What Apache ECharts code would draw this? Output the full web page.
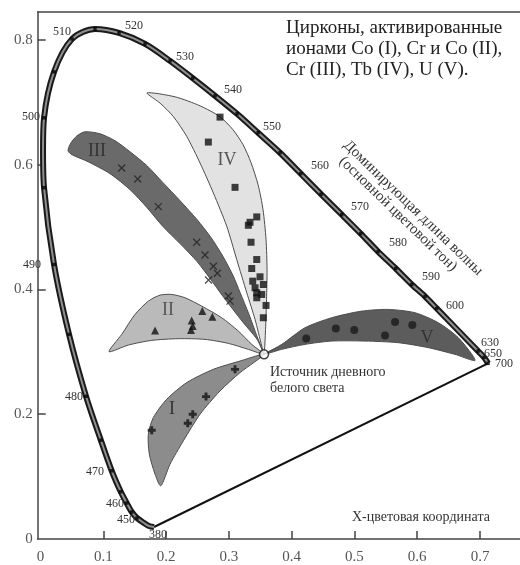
<!DOCTYPE html>
<html><head><meta charset="utf-8">
<script src="https://cdn.jsdelivr.net/npm/echarts@6/dist/echarts.min.js"></script>
<style>html,body{margin:0;padding:0;background:#fff}#c{width:520px;height:565px}</style>
</head><body><div id="c"></div>
<script>
// ---------- data (chromaticity coordinates) ----------
const xTickValues = [0, 0.1, 0.2, 0.3, 0.4, 0.5, 0.6, 0.7];
const yTickValues = [0, 0.2, 0.4, 0.6, 0.8];

// spectral locus (wavelength, x, y)
const locusWl = [380, 420, 440, 450, 455, 460, 465, 470, 475, 480, 485, 490, 495, 497.5, 500, 505, 510, 515, 520, 525, 530, 535, 540, 545, 550, 555, 560, 565, 570, 575, 580, 585, 590, 595, 600, 630, 650, 700];
const locusX = [0.1808, 0.1728, 0.1649, 0.1537, 0.1453, 0.1373, 0.1278, 0.1134, 0.0961, 0.0725, 0.0454, 0.0215, 0.0056, 0.0040, 0.0056, 0.0215, 0.0502, 0.0868, 0.1250, 0.1665, 0.2063, 0.2424, 0.2780, 0.3130, 0.3465, 0.3815, 0.4145, 0.4468, 0.4798, 0.5100, 0.5376, 0.5658, 0.5913, 0.6125, 0.6311, 0.6969, 0.7065, 0.7128];
const locusY = [0.0192, 0.0208, 0.0256, 0.0336, 0.0432, 0.0576, 0.0757, 0.1093, 0.1584, 0.2288, 0.3280, 0.4400, 0.5632, 0.6240, 0.6752, 0.7488, 0.8016, 0.8176, 0.8112, 0.7936, 0.7664, 0.7387, 0.7104, 0.6816, 0.6512, 0.6192, 0.5856, 0.5528, 0.5200, 0.4896, 0.4608, 0.4336, 0.4080, 0.3888, 0.3696, 0.3013, 0.2912, 0.2816];
const markedWl = [450, 455, 460, 465, 470, 475, 480, 485, 490, 495, 500, 505, 510, 515, 520, 525, 530, 535, 540, 545, 550, 555, 560, 565, 570, 575, 580, 585, 590, 595, 600, 630, 650, 700];
const labelWl = [380, 450, 460, 470, 480, 490, 500, 510, 520, 530, 540, 550, 560, 570, 580, 590, 600, 630, 650, 700];

// white (daylight) source
const whiteX = [0.356];
const whiteY = [0.296];

// region outlines
const regionIX = [0.356, 0.3178, 0.2753, 0.2329, 0.2010, 0.1797, 0.1717, 0.1733, 0.1824, 0.1915, 0.2063, 0.2275, 0.2541, 0.2859, 0.3178];
const regionIY = [0.296, 0.2853, 0.2720, 0.2507, 0.2240, 0.1947, 0.1680, 0.1360, 0.1040, 0.0853, 0.1200, 0.1573, 0.2000, 0.2373, 0.2667];
const regionIIX = [0.1091, 0.1293, 0.1505, 0.1717, 0.1904, 0.2090, 0.2302, 0.2568, 0.2886, 0.3151, 0.3364, 0.356, 0.3310, 0.2991, 0.2620, 0.2195, 0.1771, 0.1399];
const regionIIY = [0.3003, 0.3280, 0.3600, 0.3813, 0.3909, 0.3920, 0.3867, 0.3733, 0.3547, 0.3333, 0.3120, 0.296, 0.3040, 0.3136, 0.3200, 0.3211, 0.3184, 0.3109];
const regionIIIX = [0.0709, 0.0948, 0.1187, 0.1426, 0.1696, 0.1951, 0.2222, 0.2493, 0.2716, 0.2907, 0.3066, 0.3178, 0.3321, 0.3449, 0.356, 0.3449, 0.3226, 0.2907, 0.2700, 0.2493, 0.2222, 0.1951, 0.1696, 0.1426, 0.1107, 0.0757, 0.0502, 0.0438, 0.0486, 0.0581];
const regionIIIY = [0.6528, 0.6496, 0.6384, 0.6208, 0.5984, 0.5712, 0.5424, 0.5120, 0.4832, 0.4528, 0.4224, 0.3952, 0.3600, 0.3248, 0.296, 0.3200, 0.3472, 0.3888, 0.4176, 0.4448, 0.4736, 0.5008, 0.5312, 0.5600, 0.5856, 0.6048, 0.6160, 0.6224, 0.6352, 0.6464];
const regionIVX = [0.1696, 0.2143, 0.2541, 0.2859, 0.3066, 0.3226, 0.3353, 0.3465, 0.3544, 0.3592, 0.3608, 0.3600, 0.3584, 0.356, 0.3523, 0.3417, 0.3285, 0.3125, 0.2966, 0.2753, 0.2541, 0.2329, 0.2115, 0.1904];
const regionIVY = [0.7152, 0.7088, 0.6944, 0.6768, 0.6560, 0.6320, 0.6032, 0.5680, 0.5280, 0.4800, 0.4320, 0.3840, 0.3360, 0.296, 0.3093, 0.3520, 0.3947, 0.4480, 0.5013, 0.5547, 0.6027, 0.6453, 0.6773, 0.6987];
const regionVX = [0.356, 0.3842, 0.4213, 0.4638, 0.5116, 0.5540, 0.5965, 0.6336, 0.6655, 0.6921, 0.6602, 0.6177, 0.5699, 0.5169, 0.4638, 0.4213, 0.3842];
const regionVY = [0.296, 0.3120, 0.3387, 0.3547, 0.3653, 0.3680, 0.3627, 0.3467, 0.3227, 0.2864, 0.2960, 0.3067, 0.3147, 0.3173, 0.3173, 0.3120, 0.3040];

// measured zircons
const coX = [0.3098, 0.2636, 0.2424, 0.2345, 0.1771];            // I  Co
const coY = [0.2720, 0.2283, 0.2000, 0.1856, 0.1744];
const crCoX = [0.1824, 0.2408, 0.2424, 0.2397, 0.2577, 0.2737];  // II Cr+Co
const crCoY = [0.3344, 0.3504, 0.3416, 0.3352, 0.3653, 0.3563];
const crX = [0.1293, 0.1548, 0.1876, 0.2488, 0.2620, 0.2753, 0.2816, 0.2676, 0.2991, 0.3018]; // III Cr
const crY = [0.5947, 0.5771, 0.5328, 0.4757, 0.4552, 0.4373, 0.4261, 0.4152, 0.3896, 0.3813];
const tbX = [0.2859, 0.2673, 0.3098, 0.3444, 0.3337, 0.3310, 0.3353, 0.3444, 0.3364, 0.3496, 0.3380, 0.3549, 0.3417, 0.3444, 0.3523, 0.3444, 0.3592, 0.3549]; // IV Tb
const tbY = [0.6763, 0.6363, 0.5637, 0.5163, 0.5077, 0.5029, 0.4757, 0.4480, 0.4336, 0.4203, 0.4133, 0.4080, 0.4027, 0.3947, 0.3920, 0.3867, 0.3744, 0.3547];
const uX = [0.4232, 0.4704, 0.4997, 0.5487, 0.5647, 0.5922];   // V U
const uY = [0.3213, 0.3376, 0.3352, 0.3264, 0.3477, 0.3432];

const titleLines = ['Цирконы, активированные', 'ионами Co (I), Cr и Co (II),', 'Cr (III), Tb (IV), U (V).'];
const hueLines = ['Доминирующая длина волны', '(основной цветовой тон)'];
const sourceLines = ['Источник дневного', 'белого света'];
const xAxisTitle = 'X-цветовая координата';
const regionNames = ['I', 'II', 'III', 'IV', 'V'];

// ---------- chart ----------
const SERIF = '"Liberation Serif","Times New Roman",serif';
const zip = (xs, ys) => xs.map((x, i) => [x, ys[i]]);

function regionSeries(xs, ys, fill) {
  return {
    type: 'custom', coordinateSystem: 'cartesian2d', silent: true, z: 2,
    data: [[xs[0], ys[0]]],
    renderItem: function (params, api) {
      const pts = xs.map((x, i) => api.coord([x, ys[i]]));
      return { type: 'polygon', shape: { points: pts, smooth: 0.25 },
        style: { fill: fill, stroke: '#4d4d4d', lineWidth: 1 } };
    }
  };
}

const locusPts = zip(locusX, locusY);
const markPts = markedWl.map(w => locusPts[locusWl.indexOf(w)]);

// label placements (pixel, layout only)
const wlLabelPos = {380:[158,535],450:[126,520],460:[115,504],470:[95,472],480:[74,397],490:[32,265],500:[31,117],
  510:[62,32],520:[134,26],530:[185,57],540:[233,90],550:[272,127],560:[320,166],570:[360,207],580:[398,243],
  590:[431,277],600:[455,306],630:[490,343],650:[493,354],700:[504,364]};
const regionLabelPos = [[172,409],[168,310],[97,151],[227,160],[427,338]];

const graphics = [];
labelWl.forEach(w => {
  const p = wlLabelPos[w];
  graphics.push({ type: 'text', x: p[0], y: p[1], z: 10, silent: true,
    style: { text: String(w), font: '12px ' + SERIF, fill: '#333', align: 'center', verticalAlign: 'middle', textAlign: 'center', textVerticalAlign: 'middle' } });
});
titleLines.forEach((t, i) => graphics.push({ type: 'text', x: 286, y: 28 + i * 21, z: 10, silent: true,
  style: { text: t, font: '19px ' + SERIF, fill: '#222', align: 'left', verticalAlign: 'middle', textAlign: 'left', textVerticalAlign: 'middle' } }));
const hueCenters = [[413, 208], [398, 214]];
hueLines.forEach((t, i) => graphics.push({ type: 'text', x: hueCenters[i][0], y: hueCenters[i][1], rotation: -44 * Math.PI / 180, z: 10, silent: true,
  style: { text: t, font: '15px ' + SERIF, fill: '#333', align: 'center', verticalAlign: 'middle', textAlign: 'center', textVerticalAlign: 'middle' } }));
sourceLines.forEach((t, i) => graphics.push({ type: 'text', x: 270, y: 372 + i * 16, z: 10, silent: true,
  style: { text: t, font: '14px ' + SERIF, fill: '#333', align: 'left', verticalAlign: 'middle', textAlign: 'left', textVerticalAlign: 'middle' } }));
graphics.push({ type: 'text', x: 352, y: 517, z: 10, silent: true,
  style: { text: xAxisTitle, font: '14px ' + SERIF, fill: '#333', align: 'left', verticalAlign: 'middle', textAlign: 'left', textVerticalAlign: 'middle' } });
regionNames.forEach((t, i) => graphics.push({ type: 'text', x: regionLabelPos[i][0], y: regionLabelPos[i][1], z: 10, silent: true,
  style: { text: t, font: '18px ' + SERIF, fill: (i === 1 || i === 3) ? '#555' : '#333', align: 'center', verticalAlign: 'middle', textAlign: 'center', textVerticalAlign: 'middle' } }));

const axisLineStyle = { color: '#444', width: 1.5 };
const option = {
  animation: false,
  backgroundColor: '#fff',
  grid: { left: 37.7, right: 0, top: 12, bottom: 25, containLabel: false },
  xAxis: [{
    type: 'value', min: -0.0045, max: 0.7637, position: 'bottom',
    axisLine: { show: true, onZero: false, lineStyle: axisLineStyle },
    axisTick: { show: true, inside: true, length: 8, lineStyle: { color: '#444', width: 1.5 }, customValues: xTickValues.slice(1) },
    axisLabel: { customValues: xTickValues, margin: 11, color: '#555', fontFamily: SERIF, fontSize: 15 },
    splitLine: { show: false }
  }, {
    type: 'value', min: -0.0045, max: 0.7637, position: 'top',
    axisLine: { show: true, onZero: false, lineStyle: axisLineStyle },
    axisTick: { show: false }, axisLabel: { show: false }, splitLine: { show: false }
  }],
  yAxis: {
    type: 'value', min: 0, max: 0.8448,
    axisLine: { show: true, onZero: false, lineStyle: axisLineStyle },
    axisTick: { show: true, inside: true, length: 8, lineStyle: { color: '#444', width: 1.5 }, customValues: yTickValues.slice(1) },
    axisLabel: { customValues: yTickValues, margin: 5, color: '#555', fontFamily: SERIF, fontSize: 15 },
    splitLine: { show: false }
  },
  graphic: graphics,
  series: [
    regionSeries(regionIVX, regionIVY, '#e2e2e2'),
    regionSeries(regionIIIX, regionIIIY, '#6a6a6a'),
    regionSeries(regionIIX, regionIIY, '#bababa'),
    regionSeries(regionIX, regionIY, '#8c8c8c'),
    regionSeries(regionVX, regionVY, '#5c5c5c'),
    { type: 'line', data: locusPts, smooth: 0.3, symbol: 'none', z: 4, silent: true,
      lineStyle: { color: '#1a1a1a', width: 6 } },
    { type: 'line', data: locusPts, smooth: 0.3, symbol: 'none', z: 5, silent: true,
      lineStyle: { color: '#8f8f8f', width: 2 } },
    { type: 'line', data: [locusPts[0], locusPts[locusPts.length - 1]], symbol: 'none', z: 4, silent: true,
      lineStyle: { color: '#111', width: 2 } },
    { type: 'scatter', data: markPts, symbol: 'rect', symbolSize: 3.5, z: 6, silent: true, itemStyle: { color: '#000' } },
    { type: 'scatter', data: zip(tbX, tbY), symbol: 'rect', symbolSize: 7, z: 7, silent: true, itemStyle: { color: '#111' } },
    { type: 'scatter', data: zip(crX, crY), symbol: 'path://M0,0L10,10M10,0L0,10', symbolSize: 7, z: 7, silent: true,
      itemStyle: { color: 'none', borderColor: '#222', borderWidth: 1.3 } },
    { type: 'scatter', data: zip(crCoX, crCoY), symbol: 'triangle', symbolSize: 8, z: 7, silent: true, itemStyle: { color: '#111' } },
    { type: 'scatter', data: zip(coX, coY), symbol: 'path://M3.2,0H6.8V3.2H10V6.8H6.8V10H3.2V6.8H0V3.2H3.2Z', symbolSize: 8, z: 7, silent: true, itemStyle: { color: '#111' } },
    { type: 'scatter', data: zip(uX, uY), symbol: 'circle', symbolSize: 8, z: 7, silent: true, itemStyle: { color: '#1a1a1a' } },
    { type: 'scatter', data: zip(whiteX, whiteY), symbol: 'circle', symbolSize: 9, z: 8, silent: true,
      itemStyle: { color: '#fff', borderColor: '#111', borderWidth: 1.5 } }
  ]
};
const chart = echarts.init(document.getElementById('c'), null, { renderer: 'canvas' });
chart.setOption(option);
</script>
</body></html>
